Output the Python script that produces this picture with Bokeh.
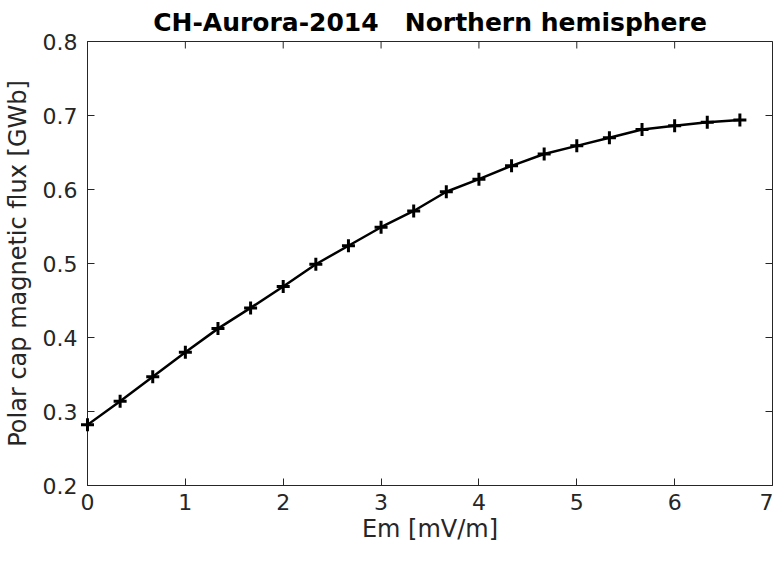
from bokeh.plotting import figure
from bokeh.models import LinearAxis, Range1d, FixedTicker
from bokeh.embed import file_html
from bokeh.resources import INLINE

# Data
em = [0, 1/3, 2/3, 1, 4/3, 5/3, 2, 7/3, 8/3, 3, 10/3, 11/3, 4, 13/3, 14/3, 5,
      16/3, 17/3, 6, 19/3, 20/3]
flux = [0.282, 0.314, 0.347, 0.380, 0.412, 0.440, 0.469, 0.499, 0.524, 0.549,
        0.571, 0.597, 0.614, 0.632, 0.648, 0.659, 0.670, 0.681, 0.686, 0.691, 0.694]
x_ticks = [0, 1, 2, 3, 4, 5, 6, 7]
y_ticks = [0.2, 0.3, 0.4, 0.5, 0.6, 0.7, 0.8]
x_min, x_max = 0, 7
y_min, y_max = 0.2, 0.8

title_text = "CH-Aurora-2014\u00a0\u00a0\u00a0Northern hemisphere"
x_label = "Em [mV/m]"
y_label = "Polar cap magnetic flux [GWb]"

FONT = "DejaVu Sans"
AX = "#262626"

p = figure(width=773, height=545, output_backend="svg", toolbar_location=None,
           x_range=Range1d(x_min, x_max), y_range=Range1d(y_min, y_max),
           x_axis_location=None, y_axis_location=None,
           min_border_left=80, min_border_right=1, min_border_top=32, min_border_bottom=50)
p.grid.visible = False
p.outline_line_color = AX
p.outline_line_width = 1
p.background_fill_color = "white"
p.border_fill_color = "white"

def style(ax):
    ax.axis_line_color = AX
    ax.axis_line_width = 1
    ax.major_tick_line_color = AX
    ax.major_tick_in = 7
    ax.major_tick_out = 0
    ax.minor_tick_line_color = None
    ax.major_label_text_font = FONT
    ax.major_label_text_font_size = "22px"
    ax.major_label_text_color = AX
    ax.axis_label_text_font = FONT
    ax.axis_label_text_font_size = "24px"
    ax.axis_label_text_font_style = "normal"
    ax.axis_label_text_color = AX

xb = LinearAxis(ticker=FixedTicker(ticks=x_ticks), axis_label=x_label)
style(xb)
xb.major_label_standoff = 8
xb.axis_label_standoff = 2
p.add_layout(xb, "below")

yl = LinearAxis(ticker=FixedTicker(ticks=y_ticks), axis_label=y_label)
style(yl)
yl.major_label_standoff = 10
yl.axis_label_standoff = 8
p.add_layout(yl, "left")

# inner tick marks on the top and right edges of the box (clipped to the frame)
p.scatter([x_max] * len(y_ticks), y_ticks, marker="dash", size=14,
          line_color=AX, line_width=1)
p.scatter(x_ticks, [y_max] * len(x_ticks), marker="dash", angle=1.5707963, size=14,
          line_color=AX, line_width=1)

p.title.text = title_text
p.title.align = "center"
p.title.text_font = FONT
p.title.text_font_size = "25px"
p.title.text_font_style = "bold"
p.title.text_color = "black"

p.line(em, flux, line_color="black", line_width=2.5)
r = p.scatter(em, flux, marker="cross", size=13, line_color="black", line_width=3)
r.level = "overlay"

open("out.html", "w").write(file_html(p, INLINE))
